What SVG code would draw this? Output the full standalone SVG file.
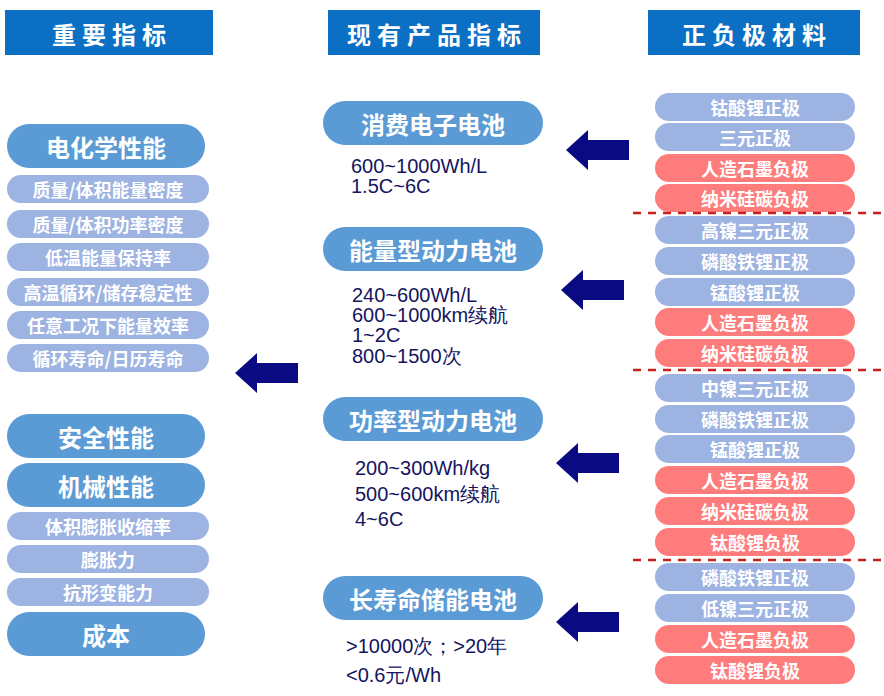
<svg xmlns="http://www.w3.org/2000/svg" width="884" height="696" viewBox="0 0 884 696">
<style>
text{font-family:"Noto Sans CJK SC","Liberation Sans",sans-serif;text-anchor:middle;dominant-baseline:central}
.hd rect{fill:#0B6FC3}.hd text{fill:#fff;font-size:24px;font-weight:bold;letter-spacing:6px}
.big rect{fill:#5B9BD5}.big text{fill:#fff;font-size:24px;font-weight:bold}
.sm rect{fill:#9DB3E2}.sm text{fill:#fff;font-size:18px;font-weight:bold}
.ng rect{fill:#FF7C7C}.ng text{fill:#fff;font-size:18px;font-weight:bold}
.d{fill:#141460;font-family:"Liberation Sans",sans-serif;font-size:20px;text-anchor:start;dominant-baseline:auto}
.arr{fill:#0A0A82}
.dash{stroke:#C8201F;stroke-width:2.5;stroke-dasharray:8 7}
</style>
<rect width="884" height="696" fill="#fff"/>
<g id="headers" class="hd">
<rect x="5" y="10" width="208" height="45"/><text x="112" y="33">重要指标</text>
<rect x="328" y="10" width="212" height="45"/><text x="437" y="33">现有产品指标</text>
<rect x="648" y="10" width="212" height="45"/><text x="757" y="33">正负极材料</text>
</g>
<g id="left">
<g class="big"><rect x="7" y="124" width="198" height="44" rx="22"/><text x="106" y="146">电化学性能</text></g>
<g class="sm"><rect x="7" y="175" width="202" height="28" rx="14"/><text x="108" y="189">质量/体积能量密度</text></g>
<g class="sm"><rect x="7" y="210" width="202" height="28" rx="14"/><text x="108" y="224">质量/体积功率密度</text></g>
<g class="sm"><rect x="7" y="243" width="202" height="28" rx="14"/><text x="108" y="257">低温能量保持率</text></g>
<g class="sm"><rect x="7" y="278" width="202" height="28" rx="14"/><text x="108" y="292">高温循环/储存稳定性</text></g>
<g class="sm"><rect x="7" y="311" width="202" height="28" rx="14"/><text x="108" y="325">任意工况下能量效率</text></g>
<g class="sm"><rect x="7" y="344" width="202" height="28" rx="14"/><text x="108" y="358">循环寿命/日历寿命</text></g>
<g class="big"><rect x="7" y="414" width="198" height="44" rx="22"/><text x="106" y="436">安全性能</text></g>
<g class="big"><rect x="7" y="463" width="198" height="44" rx="22"/><text x="106" y="485">机械性能</text></g>
<g class="sm"><rect x="7" y="512" width="202" height="28" rx="14"/><text x="108" y="526">体积膨胀收缩率</text></g>
<g class="sm"><rect x="7" y="545" width="202" height="28" rx="14"/><text x="108" y="559">膨胀力</text></g>
<g class="sm"><rect x="7" y="578" width="202" height="28" rx="14"/><text x="108" y="592">抗形变能力</text></g>
<g class="big"><rect x="7" y="612" width="198" height="44" rx="22"/><text x="106" y="634">成本</text></g>
</g>
<g id="middle">
<g class="big"><rect x="323" y="101" width="220" height="44" rx="22"/><text x="433" y="123">消费电子电池</text></g>
<text class="d" x="351" y="173">600~1000Wh/L</text><text class="d" x="351" y="193">1.5C~6C</text>
<g class="big"><rect x="323" y="227" width="220" height="44" rx="22"/><text x="433" y="249">能量型动力电池</text></g>
<text class="d" x="352" y="302">240~600Wh/L</text><text class="d" x="352" y="322">600~1000km续航</text><text class="d" x="352" y="342">1~2C</text><text class="d" x="352" y="363">800~1500次</text>
<g class="big"><rect x="323" y="397" width="220" height="44" rx="22"/><text x="433" y="419">功率型动力电池</text></g>
<text class="d" x="355" y="475">200~300Wh/kg</text><text class="d" x="355" y="501">500~600km续航</text><text class="d" x="355" y="526">4~6C</text>
<g class="big"><rect x="323" y="576" width="220" height="44" rx="22"/><text x="433" y="598">长寿命储能电池</text></g>
<text class="d" x="346" y="653">&gt;10000次；&gt;20年</text><text class="d" x="346" y="682">&lt;0.6元/Wh</text>
</g>
<g id="right">
<g class="sm"><rect x="655" y="93" width="200" height="28" rx="14"/><text x="755" y="107">钴酸锂正极</text></g>
<g class="sm"><rect x="655" y="123" width="200" height="28" rx="14"/><text x="755" y="137">三元正极</text></g>
<g class="ng"><rect x="655" y="154" width="200" height="28" rx="14"/><text x="755" y="168">人造石墨负极</text></g>
<g class="ng"><rect x="655" y="184" width="200" height="28" rx="14"/><text x="755" y="198">纳米硅碳负极</text></g>
<g class="sm"><rect x="655" y="216" width="200" height="28" rx="14"/><text x="755" y="230">高镍三元正极</text></g>
<g class="sm"><rect x="655" y="247" width="200" height="28" rx="14"/><text x="755" y="261">磷酸铁锂正极</text></g>
<g class="sm"><rect x="655" y="278" width="200" height="28" rx="14"/><text x="755" y="292">锰酸锂正极</text></g>
<g class="ng"><rect x="655" y="308" width="200" height="28" rx="14"/><text x="755" y="322">人造石墨负极</text></g>
<g class="ng"><rect x="655" y="339" width="200" height="28" rx="14"/><text x="755" y="353">纳米硅碳负极</text></g>
<g class="sm"><rect x="655" y="374" width="200" height="28" rx="14"/><text x="755" y="388">中镍三元正极</text></g>
<g class="sm"><rect x="655" y="405" width="200" height="28" rx="14"/><text x="755" y="419">磷酸铁锂正极</text></g>
<g class="sm"><rect x="655" y="435" width="200" height="28" rx="14"/><text x="755" y="449">锰酸锂正极</text></g>
<g class="ng"><rect x="655" y="466" width="200" height="28" rx="14"/><text x="755" y="480">人造石墨负极</text></g>
<g class="ng"><rect x="655" y="497" width="200" height="28" rx="14"/><text x="755" y="511">纳米硅碳负极</text></g>
<g class="ng"><rect x="655" y="528" width="200" height="28" rx="14"/><text x="755" y="542">钛酸锂负极</text></g>
<g class="sm"><rect x="655" y="563" width="200" height="28" rx="14"/><text x="755" y="577">磷酸铁锂正极</text></g>
<g class="sm"><rect x="655" y="594" width="200" height="28" rx="14"/><text x="755" y="608">低镍三元正极</text></g>
<g class="ng"><rect x="655" y="625" width="200" height="28" rx="14"/><text x="755" y="639">人造石墨负极</text></g>
<g class="ng"><rect x="655" y="656" width="200" height="28" rx="14"/><text x="755" y="670">钛酸锂负极</text></g>
</g>
<g id="connectors">
<line class="dash" x1="633" y1="213" x2="884" y2="213"/>
<line class="dash" x1="633" y1="370" x2="884" y2="370"/>
<line class="dash" x1="633" y1="560" x2="884" y2="560"/>
<path class="arr" d="M566 150 L588 130 L588 140 L629 140 L629 160 L588 160 L588 170 Z"/>
<path class="arr" d="M561 290 L583 270 L583 280 L624 280 L624 300 L583 300 L583 310 Z"/>
<path class="arr" d="M556 463 L578 443 L578 453 L619 453 L619 473 L578 473 L578 483 Z"/>
<path class="arr" d="M556 622 L578 602 L578 612 L619 612 L619 632 L578 632 L578 642 Z"/>
<path class="arr" d="M235 373 L257 353 L257 363 L298 363 L298 383 L257 383 L257 393 Z"/>
</g>
</svg>
